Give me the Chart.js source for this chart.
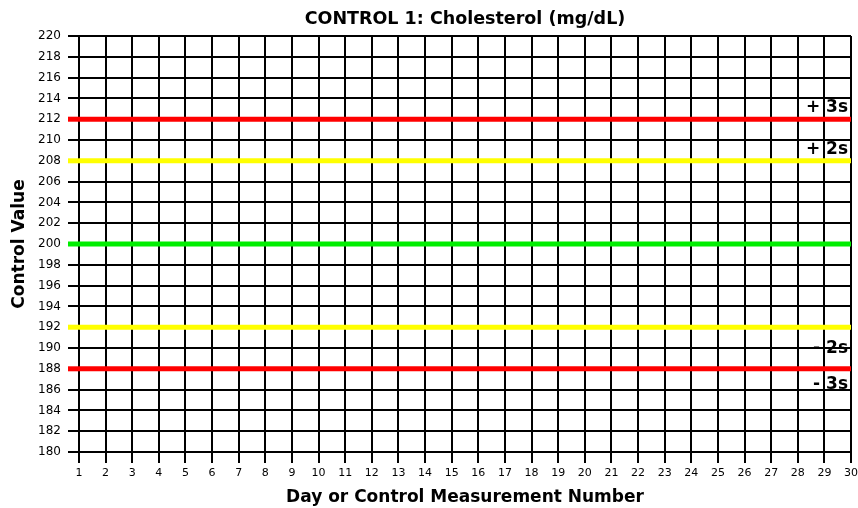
<!DOCTYPE html>
<html>
<head>
<meta charset="utf-8">
<script src="https://cdn.jsdelivr.net/npm/chart.js@4"></script>
<style>
  html, body { margin: 0; padding: 0; background: #fff; }
  #wrap { width: 858px; height: 508px; position: relative; }
</style>
</head>
<body>
<div id="wrap"><canvas id="c"></canvas></div>
<script>
// ---- data ----
const titleText = 'CONTROL 1: Cholesterol (mg/dL)';
const xTitle = 'Day or Control Measurement Number';
const yTitle = 'Control Value';
const days = [1,2,3,4,5,6,7,8,9,10,11,12,13,14,15,16,17,18,19,20,21,22,23,24,25,26,27,28,29,30];
const yMin = 180, yMax = 220, yStep = 2;
const limitValues = [212, 208, 200, 192, 188];
const limitColors = ['#ff0000', '#ffff00', '#00ee00', '#ffff00', '#ff0000'];
const limitLabels = ['+ 3s', '+ 2s', '', '- 2s', '- 3s'];
// style: vertical text offset (px) of each label from its line
const labelOffsets = [-12, -11, 0, 21, 16];

const FONT = '"DejaVu Sans", Verdana, sans-serif';

const datasets = limitValues.map((v, i) => ({
  data: [{x: days[0], y: v}, {x: days[days.length - 1], y: v}],
  borderColor: limitColors[i],
  backgroundColor: limitColors[i],
  borderWidth: 5,
  pointRadius: 0,
  borderCapStyle: 'butt',
  clip: false
}));

const limitPlugin = {
  id: 'limitPlugin',
  afterDatasetsDraw(chart) {
    const ctx = chart.ctx;
    const ys = chart.scales.y;
    const area = chart.chartArea;
    ctx.save();
    limitValues.forEach((v, i) => {
      const py = ys.getPixelForValue(v);
      ctx.strokeStyle = limitColors[i];
      ctx.lineWidth = 5;
      ctx.beginPath();
      ctx.moveTo(area.left - 11, py);
      ctx.lineTo(area.left, py);
      ctx.stroke();
      if (limitLabels[i]) {
        ctx.fillStyle = '#000';
        ctx.font = 'bold 17px ' + FONT;
        ctx.textAlign = 'right';
        ctx.textBaseline = 'middle';
        ctx.fillText(limitLabels[i], area.right - 3, py + labelOffsets[i]);
      }
    });
    ctx.restore();
  }
};

new Chart(document.getElementById('c'), {
  type: 'line',
  data: { datasets },
  plugins: [limitPlugin],
  options: {
    responsive: true,
    maintainAspectRatio: false,
    animation: false,
    layout: { padding: { left: 0, right: 0, top: 0, bottom: 0 } },
    plugins: {
      legend: { display: false },
      tooltip: { enabled: false },
      title: {
        display: true,
        fullSize: false,
        text: titleText,
        color: '#000',
        font: { family: FONT, size: 17.5, weight: 'bold' },
        padding: { top: 9, bottom: 6 }
      }
    },
    scales: {
      x: {
        type: 'linear',
        min: days[0],
        max: days[days.length - 1],
        afterBuildTicks(scale) { scale.ticks = days.map(d => ({ value: d })); },
        afterFit(scale) { scale.height = 56; scale.paddingRight = 7; scale.paddingLeft = 0; },
        ticks: {
          color: '#000',
          font: { family: FONT, size: 11 },
          padding: 4,
          maxRotation: 0,
          autoSkip: false
        },
        grid: { color: '#000', lineWidth: 2, tickLength: 11, drawTicks: true },
        border: { color: '#000', width: 2 },
        title: {
          display: true,
          text: xTitle,
          color: '#000',
          font: { family: FONT, size: 17, weight: 'bold' },
          padding: { top: 1, bottom: 0 }
        }
      },
      y: {
        min: yMin,
        max: yMax,
        afterFit(scale) { scale.width = 79; },
        ticks: {
          stepSize: yStep,
          color: '#000',
          font: { family: FONT, size: 12 },
          padding: 7,
          autoSkip: false
        },
        grid: { color: '#000', lineWidth: 2, tickLength: 11, drawTicks: true },
        border: { color: '#000', width: 2 },
        title: {
          display: true,
          text: yTitle,
          color: '#000',
          font: { family: FONT, size: 17, weight: 'bold' },
          padding: { top: 9, bottom: 0 }
        }
      }
    }
  }
});
</script>
</body>
</html>
